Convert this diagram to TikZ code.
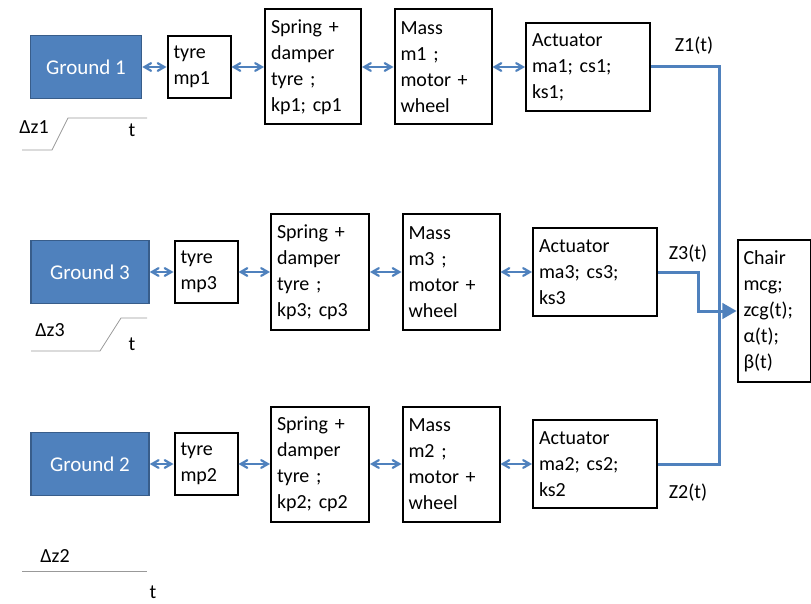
\documentclass[tikz,border=0pt]{standalone}
\usepackage{fontspec}
\setmainfont{Carlito}
\usetikzlibrary{arrows}

\definecolor{groundblue}{RGB}{79,129,189}
\definecolor{groundedge}{RGB}{56,93,138}
\definecolor{linkblue}{RGB}{79,129,189}

\frenchspacing

\begin{document}
\begin{tikzpicture}[x=1pt, y=-1pt,
  every node/.style={font=\fontsize{20}{26}\selectfont},
  ground/.style={draw=groundedge, line width=1.5pt, fill=groundblue, text=white, font=\fontsize{21}{26}\selectfont, minimum width=118, minimum height=63},
  block/.style={draw=black, line width=2pt, align=left, inner xsep=6pt, inner ysep=2pt},
  link/.style={draw=linkblue, line width=2.2pt, angle 60-angle 60},
  feed/.style={draw=linkblue, line width=3pt},
  stepline/.style={draw=gray!80, line width=0.8pt}]

  \useasboundingbox (0,0) rectangle (811,604);

    % Ground 1
    \node[ground, minimum width=111] (g1) at (86,67) {Ground 1};
    \node[block, text width=51, minimum height=62] (ty1) at (199,67) {tyre\\mp1};
    \node[block, text width=84, minimum height=115] (sp1) at (313,67) {Spring +\\damper\\tyre ;\\kp1; cp1};
    \node[block, text width=85, minimum height=115] (ms1) at (443,67) {Mass\\m1 ;\\motor +\\wheel};
    \node[block, text width=112, minimum height=88] (ac1) at (588,67) {Actuator\\ma1; cs1;\\ks1;};
    \draw[link] (g1) -- (ty1);
    \draw[link] (ty1) -- (sp1);
    \draw[link] (sp1) -- (ms1);
    \draw[link] (ms1) -- (ac1);
    \node (z1) at (694,46) {Z1(t)};
    \node (dz1) at (34,127) {Δz1};
    \node (t1) at (132,130) {t};
    \draw[stepline] (22,150) -- (52,150) -- (68,118) -- (147,118);

    % Ground 3
    \node[ground] (g3) at (90,272) {Ground 3};
    \node[block, text width=51, minimum height=62] (ty3) at (206,272) {tyre\\mp3};
    \node[block, text width=86, minimum height=115] (sp3) at (320,272) {Spring +\\damper\\tyre ;\\kp3; cp3};
    \node[block, text width=85, minimum height=115] (ms3) at (451,272) {Mass\\m3 ;\\motor +\\wheel};
    \node[block, text width=112, minimum height=88] (ac3) at (595,272) {Actuator\\ma3; cs3;\\ks3};
    \draw[link] (g3) -- (ty3);
    \draw[link] (ty3) -- (sp3);
    \draw[link] (sp3) -- (ms3);
    \draw[link] (ms3) -- (ac3);
    \node (z3) at (688,254) {Z3(t)};
    \node (dz3) at (50,330) {Δz3};
    \node (t3) at (132,344) {t};
    \draw[stepline] (31,351) -- (100,351) -- (121,318) -- (147,318);

    % Ground 2
    \node[ground] (g2) at (90,464) {Ground 2};
    \node[block, text width=51, minimum height=62] (ty2) at (206,464) {tyre\\mp2};
    \node[block, text width=86, minimum height=115] (sp2) at (320,464) {Spring +\\damper\\tyre ;\\kp2; cp2};
    \node[block, text width=85, minimum height=115] (ms2) at (451,464) {Mass\\m2 ;\\motor +\\wheel};
    \node[block, text width=112, minimum height=88] (ac2) at (595,464) {Actuator\\ma2; cs2;\\ks2};
    \draw[link] (g2) -- (ty2);
    \draw[link] (ty2) -- (sp2);
    \draw[link] (sp2) -- (ms2);
    \draw[link] (ms2) -- (ac2);
    \node (z2) at (688,493) {Z2(t)};
    \node (dz2) at (55,556) {Δz2};
    \node[inner sep=1pt] (t2) at (153,592) {t};
    \draw[stepline] (22,571) -- (147,571);

    % Chair
    \node[block, text width=61, minimum height=142] (ch) at (774,311) {Chair\\mcg;\\zcg(t);\\α(t);\\β(t)};
    \coordinate (bus1) at (719,67);
    \coordinate (bus2) at (719,464);
    \draw[feed] (ac1.east) -- (bus1) -- (bus2) -- (ac2.east);
    \draw[feed, -triangle 60] (ac3.east) -- ++(40,0) |- (ch.west);

\end{tikzpicture}
\end{document}
